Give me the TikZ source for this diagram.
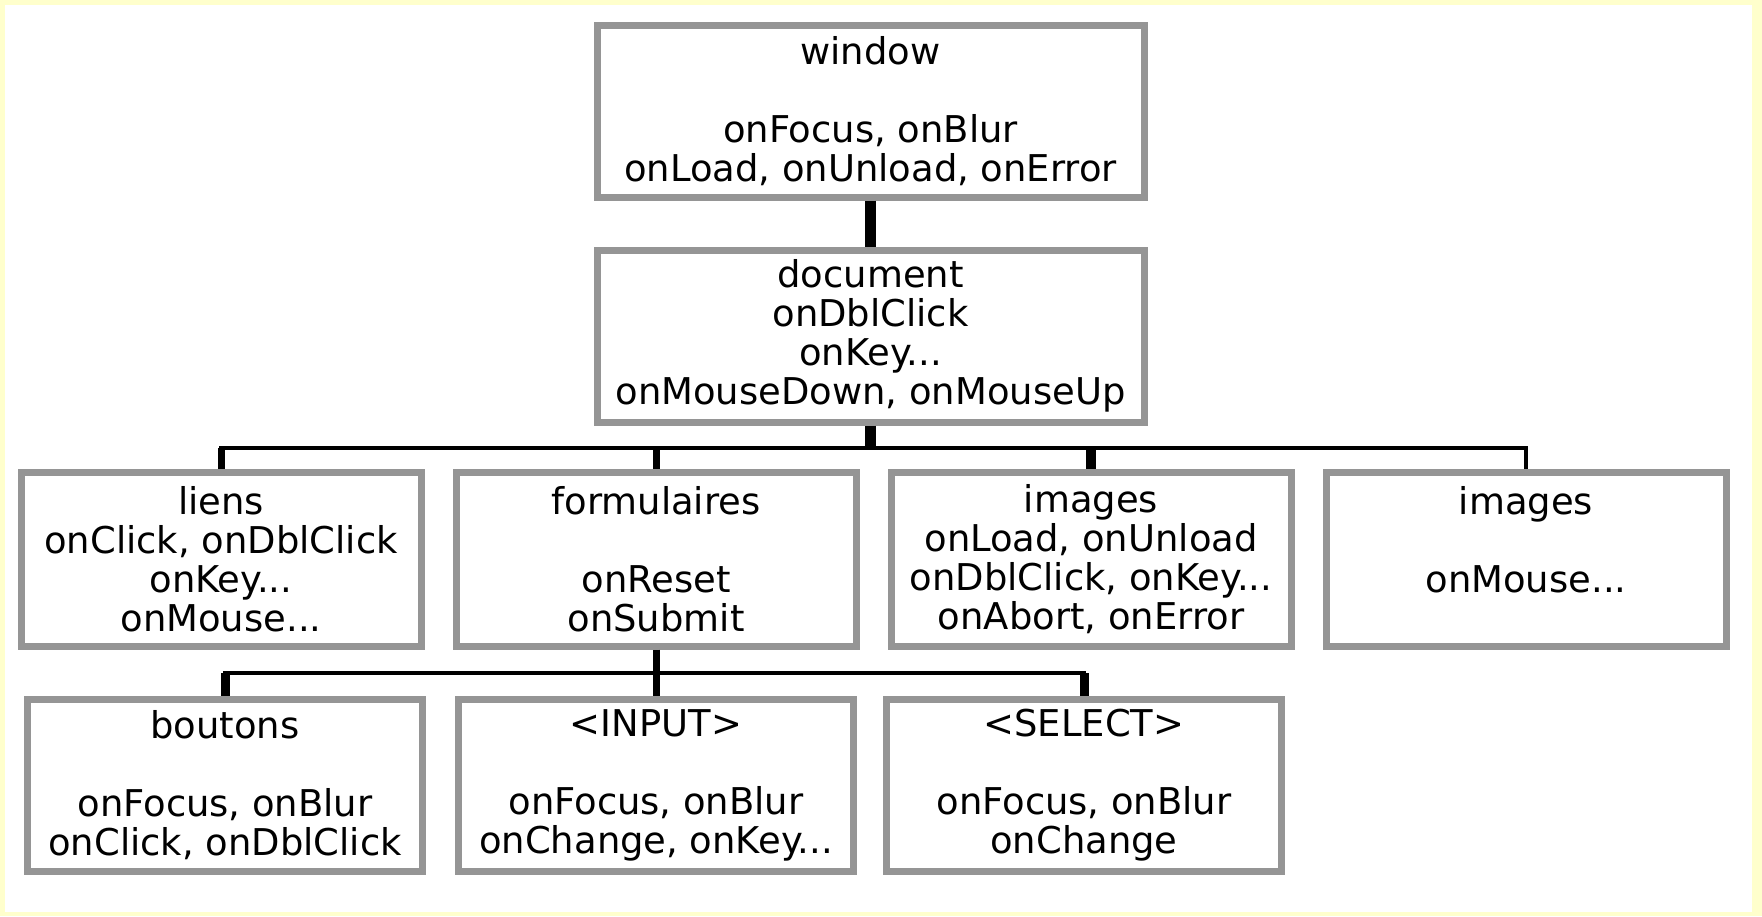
\documentclass[tikz,border=0pt]{standalone}
\usepackage{fontspec}
\setmainfont{DejaVu Sans}
\usepackage{tikz}
\usetikzlibrary{positioning}

\definecolor{boxgray}{RGB}{149,149,149}
\definecolor{paleyellow}{RGB}{255,255,204}

\tikzset{
    box/.style={draw=boxgray, line width=0.14cm, rectangle, fill=white, outer sep=0.07cm, inner sep=0pt, align=center, font=\fontsize{21}{22.2}\selectfont},
    stem/.style={line width=0.22cm},
    drop/.style={line width=0.14cm},
    bar/.style={line width=0.08cm}
}

\begin{document}
\begin{tikzpicture}
        % Frame
        \fill[paleyellow] (0,0) rectangle (35.24,-18.32);
        \fill[white] (0.1,-0.1) rectangle (35.04,-18.24);
        \useasboundingbox (0,0) rectangle (35.24,-18.32);

        % Define the nodes
        \node[box, minimum width=10.94cm, minimum height=3.44cm] (window) at (17.41,-2.22) {window\\[0.78cm]onFocus, onBlur\\onLoad, onUnload, onError};
        \node[box, minimum width=10.94cm, minimum height=3.44cm, below=0.92cm of window] (document) {document\\onDblClick\\onKey...\\onMouseDown, onMouseUp};

        \node[box, minimum width=8cm, minimum height=3.48cm] (liens) at (4.42,-11.18) {liens\\onClick, onDblClick\\onKey...\\onMouse...};
        \node[box, minimum width=8cm, minimum height=3.48cm, right=0.56cm of liens] (formulaires) {formulaires\\[0.78cm]onReset\\onSubmit};
        \node[box, minimum width=8cm, minimum height=3.48cm, right=0.56cm of formulaires] (images1) {images\\onLoad, onUnload\\onDblClick, onKey...\\onAbort, onError};
        \node[box, minimum width=8cm, minimum height=3.48cm, right=0.56cm of images1] (images2) {images\\[0.78cm]onMouse...\\\mbox{}};

        \node[box, minimum width=7.9cm, minimum height=3.44cm, below=0.92cm of formulaires] (input) {<INPUT>\\[0.78cm]onFocus, onBlur\\onChange, onKey...};
        \node[box, minimum width=7.9cm, minimum height=3.44cm, left=0.58cm of input] (boutons) {boutons\\[0.78cm]onFocus, onBlur\\onClick, onDblClick};
        \node[box, minimum width=7.9cm, minimum height=3.44cm, right=0.52cm of input] (select) {<SELECT>\\[0.78cm]onFocus, onBlur\\onChange};

        % Define the edges
        \draw[stem] (window) -- (document);

        \coordinate[below=0.44cm of document] (bus1);
        \draw[stem] (document) -- (bus1);
        \draw[bar] (liens.north) |- (bus1) -| (images2.north);
        \draw[drop] (liens.north) -- (liens.north |- bus1);
        \draw[drop] (formulaires.north) -- (formulaires.north |- bus1);
        \draw[line width=0.2cm] (images1.north) -- (images1.north |- bus1);

        \coordinate[below=0.47cm of formulaires] (bus2);
        \draw[drop] (formulaires) -- (input);
        \draw[bar] (boutons.north) |- (bus2) -| (select.north);
        \draw[line width=0.18cm] (boutons.north) -- (boutons.north |- bus2);
        \draw[line width=0.18cm] (select.north) -- (select.north |- bus2);
    \end{tikzpicture}
\end{document}
